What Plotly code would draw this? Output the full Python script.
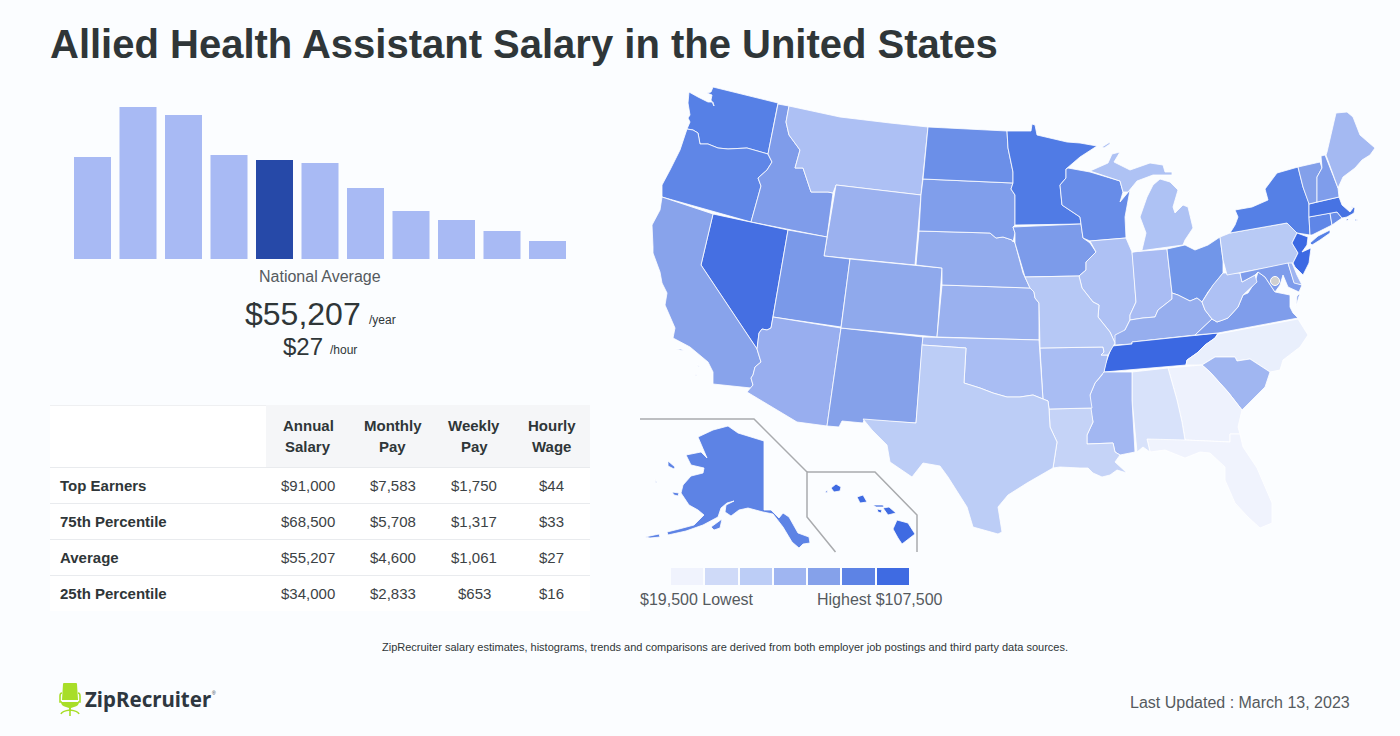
import plotly.graph_objects as go

# ---------- histogram ----------
bar_bins = list(range(11))
bar_heights = [102, 152, 144, 104, 99, 96, 71, 48, 39, 28, 18]
bar_highlight = 4
BAR_LIGHT = "#a8baf4"
BAR_DARK = "#2649a8"

# ---------- table ----------
table_headers = ["Annual<br>Salary", "Monthly<br>Pay", "Weekly<br>Pay", "Hourly<br>Wage"]
table_rows = ["Top Earners", "75th Percentile", "Average", "25th Percentile"]
annual_salary = ["$91,000", "$68,500", "$55,207", "$34,000"]
monthly_pay = ["$7,583", "$5,708", "$4,600", "$2,833"]
weekly_pay = ["$1,750", "$1,317", "$1,061", "$653"]
hourly_wage = ["$44", "$33", "$27", "$16"]

# ---------- legend ----------
legend_colors = ["#f0f3fd", "#cfdaf8", "#bccdf6", "#9fb5f1", "#85a1ea", "#5d83e5", "#3f6be2"]

# ---------- state outlines (map units) ----------
WA = [(713,87),(778,103),(768,154),(747,148),(728,149),(718,148),(708,144),(700,144),(698,133),(693,130),(687,129),(690,122),(688,118),(690,115),(688,103),(689,92),(698,97),(708,102),(713,102),(714,106),(711,100),(712,95),(707,93),(711,92)]
OR = [(687,129),(693,130),(698,133),(700,144),(708,144),(718,148),(728,149),(747,148),(768,154),(772,162),(767,170),(758,178),(761,186),(751,222),(662,197),(662,185),(670,170),(680,150)]
ID = [(778,104),(789,106),(786,122),(789,135),(800,150),(795,168),(803,168),(811,192),(828,192),(833,193),(827,237),(751,222),(761,186),(758,178),(767,170),(772,162),(768,154)]
MT = [(789,106),(840,117),(890,123),(928,127),(921,195),(836,185),(833,193),(828,192),(811,192),(803,168),(795,168),(800,150),(789,135),(786,122)]
WY = [(836,185),(921,195),(915,265),(824,256)]
NV = [(713,214),(788,230),(771,328),(767,330),(762,329),(759,333),(757,349),(701,265)]
CA = [(662,197),(713,214),(701,265),(757,349),(761,362),(755,367),(753,375),(751,378),(753,385),(751,388),(713,384),(713,372),(708,362),(700,355),(690,347),(673,338),(675,328),(665,305),(667,293),(662,283),(660,272),(653,253),(653,247),(652,225),(660,210),None,(676,349),(681,349),(684,351),None,(697,364),(699,367),(700,367),None,(695,373),(697,376),(696,376)]
UT = [(788,230),(827,237),(824,256),(850,259),(841,327),(773,317)]
AZ = [(773,317),(841,328),(827,426),(797,422),(747,392),(751,388),(753,385),(751,378),(753,375),(755,367),(761,362),(757,349),(759,333),(762,329),(767,330),(771,328)]
NM = [(841,328),(923,337),(916,423),(864,420),(863,423),(842,421),(839,427),(827,426)]
CO = [(850,259),(942,268),(937,337),(841,328)]
KS = [(942,285),(1030,288),(1034,292),(1035,298),(1039,303),(1039,340),(937,337)]
NE = [(919,231),(990,233),(996,238),(1003,237),(1012,240),(1015,243),(1023,273),(1030,288),(942,285),(942,268),(916,265)]
SD = [(923,179),(1013,183),(1011,189),(1015,195),(1015,225),(1013,227),(1015,233),(1013,242),(1012,240),(1003,237),(996,238),(990,233),(919,231),(921,195)]
ND = [(928,127),(1007,131),(1008,148),(1013,172),(1013,183),(923,179)]
MN = [(1007,131),(1031,131),(1032,124),(1035,125),(1037,135),(1050,138),(1067,142),(1080,143),(1097,146),(1080,157),(1068,168),(1066,169),(1066,178),(1060,185),(1062,205),(1080,217),(1081,224),(1015,225),(1015,195),(1011,189),(1013,183),(1013,172),(1008,148)]
IA = [(1013,227),(1081,224),(1083,238),(1090,243),(1096,252),(1086,262),(1086,270),(1079,276),(1025,277),(1015,243),(1015,233)]
WI = [(1068,168),(1090,172),(1120,181),(1123,192),(1120,202),(1130,190),(1125,217),(1126,238),(1090,241),(1083,238),(1081,224),(1080,217),(1062,205),(1060,185),(1066,178),(1066,169)]
IL = [(1090,241),(1126,238),(1132,252),(1133,260),(1136,302),(1130,315),(1130,320),(1124,332),(1116,335),(1115,343),(1110,332),(1098,317),(1099,305),(1093,302),(1082,288),(1079,276),(1086,270),(1086,262),(1096,252)]
IN = [(1132,252),(1167,249),(1172,293),(1172,299),(1158,310),(1155,317),(1143,318),(1130,320),(1130,315),(1136,302)]
OH = [(1167,249),(1185,245),(1195,250),(1208,245),(1220,237),(1223,260),(1223,273),(1213,285),(1208,292),(1202,302),(1197,298),(1190,301),(1178,295),(1172,293)]
MI = [(1132,252),(1183,245),(1185,240),(1193,228),(1188,207),(1183,205),(1175,213),(1173,207),(1178,190),(1170,182),(1160,179),(1153,185),(1147,197),(1140,217),(1146,233),(1142,250),None,(1090,171),(1108,163),(1112,154),(1120,152),(1114,162),(1120,165),(1130,170),(1150,163),(1163,165),(1165,172),(1172,172),(1172,175),(1153,175),(1137,181),(1128,192),(1123,192),(1120,181),None,(1110,142),(1102,147),(1104,148),(1110,144)]
KY = [(1172,293),(1178,295),(1190,301),(1197,298),(1202,302),(1205,310),(1212,319),(1195,335),(1132,342),(1132,344),(1115,345),(1115,335),(1125,330),(1130,320),(1143,318),(1155,317),(1158,310),(1172,299)]
TN = [(1218,333),(1215,338),(1205,345),(1197,353),(1187,360),(1186,365),(1104,372),(1105,365),(1112,346),(1132,344),(1132,342),(1195,335)]
VA = [(1195,335),(1212,319),(1217,322),(1223,320),(1228,318),(1238,307),(1243,295),(1248,293),(1255,282),(1258,272),(1265,277),(1275,292),(1290,295),(1290,307),(1293,313),(1298,318),(1218,333),None,(1297,296),(1300,293),(1296,306)]
WV = [(1223,273),(1240,273),(1242,282),(1255,275),(1257,282),(1247,292),(1243,295),(1238,307),(1228,318),(1223,320),(1217,322),(1212,319),(1205,310),(1202,302),(1208,292),(1213,285)]
PA = [(1220,237),(1230,233),(1287,223),(1297,233),(1292,243),(1298,253),(1293,263),(1227,275),(1223,260)]
NY = [(1230,233),(1235,225),(1238,217),(1235,210),(1252,207),(1268,200),(1265,189),(1277,173),(1298,167),(1303,187),(1309,203),(1309,217),(1310,235),(1297,233),(1287,223),None,(1310,243),(1318,236),(1330,230),(1330,233),(1320,240),(1312,245)]
NJ = [(1297,233),(1308,237),(1307,245),(1302,252),(1311,248),(1309,263),(1303,275),(1295,267),(1293,263),(1298,253),(1292,243)]
CT = [(1309,217),(1330,213),(1332,225),(1312,235),(1310,235)]
RI = [(1330,213),(1337,212),(1342,218),(1332,225)]
MA = [(1309,204),(1337,197),(1339,197),(1342,205),(1350,212),(1353,208),(1350,206),(1355,208),(1354,213),(1347,217),(1342,218),(1337,212),(1309,217),None,(1346,219),(1349,219),(1347,221),None,(1355,219),(1358,220),(1355,221)]
VT = [(1298,167),(1320,162),(1322,168),(1317,177),(1317,202),(1309,204),(1303,187)]
NH = [(1321,156),(1325,155),(1338,188),(1339,197),(1317,202),(1317,177),(1322,168)]
ME = [(1326,155),(1327,152),(1336,113),(1347,112),(1353,117),(1360,135),(1375,148),(1370,155),(1362,160),(1355,168),(1343,177),(1338,188)]
MD = [(1240,273),(1288,263),(1294,282),(1302,285),(1299,292),(1288,287),(1283,275),(1280,285),(1275,292),(1265,277),(1258,272),(1255,275),(1242,282)]
DE = [(1288,263),(1292,263),(1297,275),(1302,285),(1294,283)]
NC = [(1218,334),(1298,319),(1308,335),(1300,347),(1283,360),(1280,370),(1270,372),(1250,359),(1237,361),(1235,357),(1215,357),(1202,365),(1186,365),(1187,360),(1197,353),(1205,345),(1215,338)]
SC = [(1202,365),(1215,357),(1235,357),(1237,361),(1250,359),(1270,372),(1265,387),(1242,410),(1228,392),(1210,372)]
GA = [(1168,368),(1202,365),(1210,372),(1228,392),(1242,410),(1238,427),(1240,434),(1230,434),(1230,442),(1185,440),(1182,422),(1177,400)]
FL = [(1147,439),(1183,436),(1185,440),(1230,442),(1230,434),(1240,434),(1243,447),(1257,468),(1272,503),(1272,523),(1260,528),(1248,517),(1235,503),(1225,480),(1225,467),(1210,453),(1200,452),(1185,458),(1165,450),(1150,452)]
AL = [(1132,372),(1168,368),(1177,400),(1182,422),(1185,440),(1147,439),(1150,452),(1143,447),(1137,452),(1132,400)]
MS = [(1103,372),(1132,372),(1132,400),(1135,452),(1120,455),(1115,452),(1113,443),(1087,444),(1087,435),(1093,422),(1090,408),(1090,395),(1095,383),(1102,375)]
LA = [(1049,409),(1091,408),(1093,422),(1087,435),(1087,444),(1113,443),(1115,452),(1120,455),(1115,462),(1127,473),(1117,470),(1110,475),(1102,477),(1093,473),(1088,468),(1080,468),(1060,467),(1053,468),(1057,442),(1050,427)]
AR = [(1040,348),(1103,347),(1104,352),(1101,355),(1108,355),(1104,372),(1095,383),(1090,395),(1092,408),(1049,409),(1048,401),(1043,400)]
MO = [(1025,277),(1079,276),(1082,288),(1093,302),(1099,305),(1098,317),(1110,332),(1115,343),(1108,355),(1101,355),(1104,352),(1103,347),(1040,348),(1039,303),(1035,298),(1034,292),(1030,288)]
OK = [(923,337),(1039,340),(1043,400),(1048,401),(1033,395),(1020,397),(1007,397),(993,393),(980,388),(964,383),(966,348),(922,345)]
TX = [(922,345),(966,348),(964,383),(980,388),(993,393),(1007,397),(1020,397),(1033,395),(1048,401),(1049,409),(1050,427),(1057,442),(1053,468),(1027,483),(1008,495),(998,507),(1002,532),(998,534),(973,527),(967,507),(948,477),(940,466),(923,463),(912,477),(890,462),(887,445),(872,430),(863,419),(916,423)]
AK = [(698,437),(713,430),(728,426),(738,433),(764,441),(764,510),(771,510),(779,518),(783,513),(789,517),(798,533),(809,537),(810,543),(803,544),(799,548),(792,542),(783,527),(773,514),(763,512),(748,508),(739,510),(731,516),(725,512),(726,505),(734,501),(727,503),(721,508),(718,517),(703,525),(686,531),(668,535),(667,532),(679,529),(694,525),(704,515),(698,510),(689,505),(681,493),(683,485),(691,476),(703,473),(704,468),(691,465),(686,455),(701,452),(707,458),(698,437),None,(711,527),(722,519),(720,528),(714,530),None,(645,537),(659,534),(660,537),(650,538),None,(668,461),(675,467),(674,469),(668,466),None,(672,492),(679,493),(678,496),(674,495),None,(655,479),(657,483),(656,483)]
HI = [(831,488),(836,484),(841,487),(840,491),(834,492),None,(825,492),(828,490),(827,493),None,(857,497),(863,495),(867,502),(860,503),None,(873,505),(883,505),(884,507),(876,507),None,(877,509),(882,510),(881,513),(878,512),None,(883,508),(889,507),(896,513),(888,515),None,(897,520),(908,523),(915,534),(902,544),(898,538),(893,529)]

state_names = ["WA","OR","ID","MT","WY","NV","CA","UT","AZ","NM","CO","KS","NE","SD","ND","MN","IA","WI","IL","IN","OH","MI","KY","TN","VA","WV","PA","NY","NJ","CT","RI","MA","VT","NH","ME","MD","DE","NC","SC","GA","FL","AL","MS","LA","AR","MO","OK","TX","AK","HI"]
state_outlines = [WA,OR,ID,MT,WY,NV,CA,UT,AZ,NM,CO,KS,NE,SD,ND,MN,IA,WI,IL,IN,OH,MI,KY,TN,VA,WV,PA,NY,NJ,CT,RI,MA,VT,NH,ME,MD,DE,NC,SC,GA,FL,AL,MS,LA,AR,MO,OK,TX,AK,HI]
state_colors = ["#5680e6","#5f86e7","#7f9cea","#adc0f4","#9bb1ef","#456fe2","#88a3eb","#7a99e9","#98aeef","#85a1ea","#8fa9ec","#9ab1ef","#92abed","#809eeb","#6b8fe8","#507be5","#7c9bea","#678ce8","#aec1f4","#a9bcf3","#7196e9","#aec2f4","#96aeee","#3b68e2","#7f9deb","#aec1f4","#b8caf5","#5580e6","#3c69e3","#5f86e7","#6a8ee8","#4773e3","#83a0ea","#7f9deb","#a4b9f2","#7e9ceb","#9fb5f1","#e9effc","#a0b6f1","#eef2fd","#f0f3fd","#d8e2fa","#a2b7f2","#c5d3f7","#a9bdf3","#b6c8f5","#a9bdf3","#bccdf6","#5d83e5","#3f6be2"]

inset_alaska = [(640,419),(754,419),(807,472),(807,517),(835.5,552)]
inset_hawaii = [(807,472),(875,472),(917,515),(917,552)]

W, H = 1400, 736
INK = "#2f3638"
GREY = "#555a5e"
FONT = "Liberation Sans, Arial, sans-serif"

def closed(outline):
    """Split at None and close every ring, so islands do not join up."""
    xs, ys, ring = [], [], []
    for p in outline + [None]:
        if p is None:
            ring.append(ring[0])
            xs += [q[0] for q in ring] + [None]
            ys += [q[1] for q in ring] + [None]
            ring = []
        else:
            ring.append(p)
    return xs[:-1], ys[:-1]

fig = go.Figure()

fig.update_layout(
    width=W, height=H, autosize=False, showlegend=False,
    margin=dict(l=0, r=0, t=0, b=0),
    paper_bgcolor="#fbfdff", plot_bgcolor="rgba(0,0,0,0)",
    font=dict(family=FONT, color=INK),
    xaxis=dict(domain=[70/W, 570/W], range=[-0.4945, 10.4945], visible=False, fixedrange=True),
    yaxis=dict(domain=[(H-259)/H, (H-107)/H], range=[0, 152], visible=False, fixedrange=True),
    xaxis2=dict(domain=[0, 1], range=[0, W], visible=False, fixedrange=True, anchor="y2"),
    yaxis2=dict(domain=[0, 1], range=[H, 0], visible=False, fixedrange=True, anchor="x2"),
    bargap=0.187,
)

fig.add_trace(go.Bar(
    x=bar_bins, y=bar_heights,
    marker=dict(color=[BAR_DARK if i == bar_highlight else BAR_LIGHT for i in bar_bins], line=dict(width=0)),
    hoverinfo="skip",
))

for name, outline, color in zip(state_names, state_outlines, state_colors):
    xs, ys = closed(outline)
    fig.add_trace(go.Scatter(
        x=xs, y=ys,
        mode="lines", fill="toself", fillcolor=color,
        line=dict(color="#ffffff", width=0.8),
        name=name, xaxis="x2", yaxis="y2", hoverinfo="name",
    ))

fig.add_trace(go.Scatter(x=[1275], y=[281], mode="markers", xaxis="x2", yaxis="y2",
                         marker=dict(size=9, color="#d0d0d0", line=dict(color="#ffffff", width=1)),
                         name="DC", hoverinfo="name"))

for inset in (inset_alaska, inset_hawaii):
    fig.add_trace(go.Scatter(x=[p[0] for p in inset], y=[p[1] for p in inset], mode="lines",
                             line=dict(color="#a9abae", width=1.5), xaxis="x2", yaxis="y2", hoverinfo="skip"))

shapes = []
def rect(x0, y0, x1, y1, color):
    shapes.append(dict(type="rect", xref="x2", yref="y2", x0=x0, y0=y0, x1=x1, y1=y1,
                       fillcolor=color, line=dict(width=0), layer="below"))
def hline(y, x0=50, x1=590, color="#e9ebee"):
    shapes.append(dict(type="line", xref="x2", yref="y2", x0=x0, x1=x1, y0=y, y1=y,
                       line=dict(color=color, width=1), layer="below"))

rect(50, 405, 590, 611, "#ffffff")
rect(266, 405, 590, 467, "#f5f6f8")
hline(405.5, 50, 266, "#eff0f2")
for y in (467.5, 503.5, 539.5, 575.5):
    hline(y)

sw_left = [671, 705, 740, 774, 808, 842, 877]
sw_right = [703, 738, 772, 806, 840, 875, 909]
for a, b, c in zip(sw_left, sw_right, legend_colors):
    rect(a, 568, b, 585, c)

LOGO = "#a8de28"
shapes.append(dict(type="path", xref="x2", yref="y2", fillcolor=LOGO, line=dict(width=0),
                   path="M64 683 L76 683 Q77 683 77 684 L78 700 L62 700 L63 684 Q63 683 64 683 Z"))
shapes.append(dict(type="path", xref="x2", yref="y2", fillcolor=LOGO, line=dict(width=0),
                   path="M61 702 L79 702 Q79 706 74 707 L71 708 L71 711 L69 711 L69 708 L66 707 Q61 706 61 702 Z"))
for path in ("M62 693 Q60 693 60 696 L60 702 L62 702", "M78 693 Q80 693 80 696 L80 702 L78 702",
             "M61 714 Q62 711 70 710 Q78 711 79 714", "M70 710 L70 716"):
    shapes.append(dict(type="path", xref="x2", yref="y2", line=dict(color=LOGO, width=1.6), path=path))

fig.update_layout(shapes=shapes)

anns = []
def text(x, y, s, size, color=INK, anchor="center", bold=False, family=FONT):
    anns.append(dict(x=x, y=y, xref="x2", yref="y2", text=f"<b>{s}</b>" if bold else s, showarrow=False,
                     xanchor=anchor, yanchor="middle", borderpad=0, borderwidth=0,
                     font=dict(size=size, color=color, family=family), align="center"))

text(50, 44, "Allied Health Assistant Salary in the United States", 40, INK, "left", True)
text(320, 276, "National Average", 16, GREY)
text(244.5, 313.5, "$55,207", 32, INK, "left")
text(369, 320, "/year", 12, INK, "left")
text(283, 346, "$27", 24, INK, "left")
text(330, 350, "/hour", 12, INK, "left")

col_x = [308, 392.5, 474, 551.5]
for cx, h in zip(col_x, table_headers):
    a, b = h.split("<br>")
    text(cx, 425.5, a, 15, INK, bold=True)
    text(cx, 446.5, b, 15, INK, bold=True)
row_y = [485.5, 521.5, 557.5, 593.5]
for i, (ry, label) in enumerate(zip(row_y, table_rows)):
    text(60, ry, label, 15, INK, "left", True)
    for cx, col in zip(col_x, (annual_salary, monthly_pay, weekly_pay, hourly_wage)):
        text(cx, ry, col[i], 15, "#3c4245")

text(640, 599.5, "$19,500 Lowest", 16, GREY, "left")
text(817, 599.5, "Highest $107,500", 16, GREY, "left")
text(725, 647, "ZipRecruiter salary estimates, histograms, trends and comparisons are derived from both employer job postings and third party data sources.", 11, INK)
text(1350, 702, "Last Updated : March 13, 2023", 16, GREY, "right")
text(85, 699, "ZipRecruiter", 20.5, "#2e3740", "left", True, "Noto Sans, sans-serif")
text(212, 693, "®", 5, "#2e3740", "left")

fig.update_layout(annotations=anns)
fig.write_html("out.html", config=dict(displayModeBar=False),
               post_script="document.body.style.margin='0';document.body.style.background='#fbfdff';document.documentElement.style.overflow='hidden';")
